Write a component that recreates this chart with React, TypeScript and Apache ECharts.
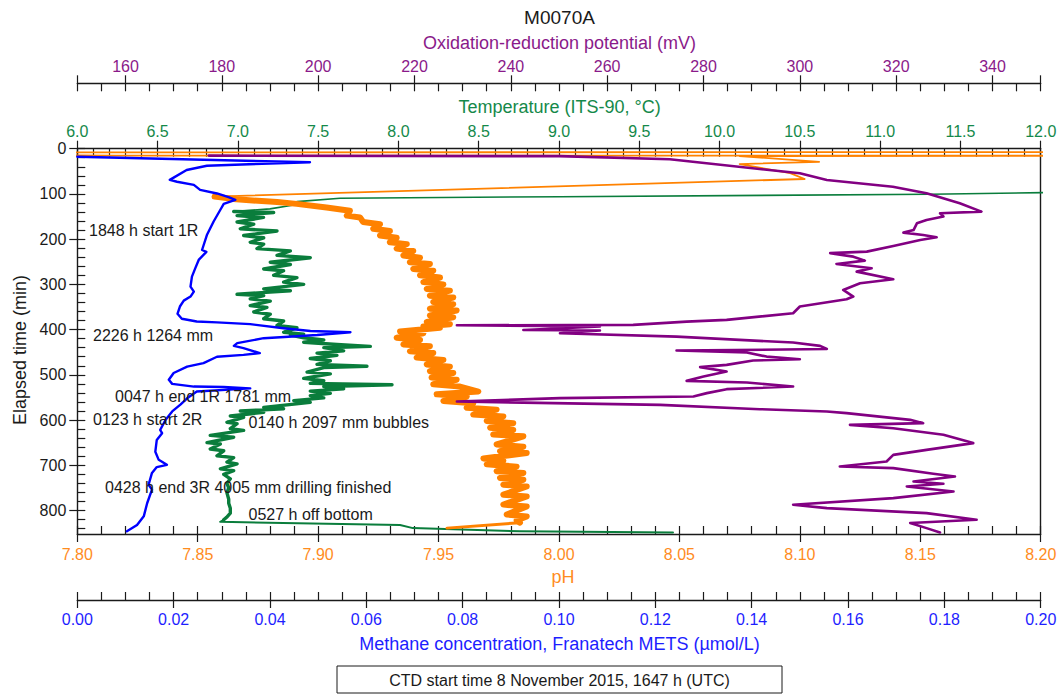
import React, { useEffect, useRef } from "react";
import * as echarts from "echarts";

const FONT = "'Liberation Sans', Arial, Helvetica, sans-serif";

const C_GREEN = "#0a7d3c";
const C_ORANGE = "#ff8200";
const C_PURPLE = "#820082";
const C_BLUE = "#0000ff";
const T_GREEN = "#15894a";
const T_ORANGE = "#ff8c1e";
const T_PURPLE = "#8a1a8a";
const T_BLUE = "#1e1eff";
const INK = "#1a1a1a";

function steps(start: number, end: number, step: number, dec: number): number[] {
  const out: number[] = [];
  const n = Math.round((end - start) / step);
  for (let i = 0; i <= n; i++) out.push(+(start + i * step).toFixed(dec));
  return out;
}

// Elapsed time axis (min)
const TIME_MAX = 852;
const timeTicks = [0, 100, 200, 300, 400, 500, 600, 700, 800];
const timeMinorTicks = steps(0, 840, 20, 0);

// Temperature axis (°C)
const tempTicks = [6.0, 6.5, 7.0, 7.5, 8.0, 8.5, 9.0, 9.5, 10.0, 10.5, 11.0, 11.5, 12.0];
const tempMinorTicks = steps(6, 12, 0.1, 1);

// Oxidation-reduction potential axis (mV)
const orpTickLabels = [160, 180, 200, 220, 240, 260, 280, 300, 320, 340];
const orpMajorTicks = [150, ...orpTickLabels, 350];
const orpMinorTicks = steps(150, 350, 5, 0);

// pH axis
const phTicks = [7.8, 7.85, 7.9, 7.95, 8.0, 8.05, 8.1, 8.15, 8.2];
const phMinorTicks = steps(7.8, 8.2, 0.01, 2);

// Methane axis (µmol/L)
const methaneTicks = [0, 0.02, 0.04, 0.06, 0.08, 0.1, 0.12, 0.14, 0.16, 0.18, 0.2];
const methaneMinorTicks = steps(0, 0.2, 0.005, 3);

// Traces: [value, elapsed time (min)]
const temperatureDescent: [number, number][] = [
  [12.5, 94.5], [11.31, 100.8], [9.005, 106.1], [7.636, 109.6], [7.368, 117], [7.348, 124.4],
  [7.2, 133], [7.05, 137], [6.974, 139],
];

const temperatureProfile: [number, number][] = [
  [6.974, 139], [7.223, 141], [6.995, 148], [7.16, 152], [6.995, 162],
  [7.099, 167], [7.015, 177], [7.244, 182], [7.036, 192], [7.161, 197], [7.077, 207], [7.161, 211],
  [7.119, 221], [7.327, 226], [7.244, 236], [7.451, 241], [7.202, 251], [7.327, 256], [7.161, 266],
  [7.285, 270], [7.223, 280], [7.368, 285], [7.285, 295], [7.41, 300], [7.161, 310], [7.327, 314],
  [6.995, 322], [7.161, 325], [7.077, 332], [7.202, 337], [7.077, 347], [7.181, 351], [7.099, 361],
  [7.202, 366], [7.161, 376], [7.285, 381], [7.244, 391], [7.368, 396], [7.285, 406], [7.41, 410],
  [7.327, 412], [7.41, 418], [7.535, 423], [7.41, 428], [7.617, 433], [7.825, 437], [7.535, 440],
  [7.659, 447], [7.493, 452], [7.617, 457], [7.451, 464], [7.576, 469], [7.493, 477], [7.804, 481],
  [7.535, 484], [7.431, 494], [7.576, 498], [7.41, 508], [7.535, 513], [7.451, 519], [7.96, 522],
  [7.535, 526], [7.659, 531], [7.451, 536], [7.576, 541], [7.451, 546], [7.535, 551], [7.348, 557],
  [7.451, 561], [7.161, 572], [7.285, 575], [7.015, 580], [7.161, 583], [6.953, 591], [7.036, 594],
  [6.932, 605], [6.995, 608], [6.953, 619], [7.036, 623], [6.828, 634], [6.974, 638], [6.808, 650],
  [6.891, 653], [6.828, 664], [6.912, 668], [6.87, 679], [6.974, 683], [6.932, 693], [6.995, 697],
  [6.891, 708], [6.974, 712], [6.912, 720], [6.953, 730], [6.932, 740], [6.943, 750], [6.932, 761],
  [6.943, 775], [6.943, 784], [6.953, 795], [6.953, 806], [6.93, 815], [6.912, 820.6],
];

const temperatureBottom: [number, number][] = [
  [6.912, 820.6], [6.89, 825], [8.01, 832], [8.09, 839], [8.757, 846], [9.71, 848.6],
];

const phDescent: [number, number][] = [
  [8.35, 3], [8.35, 7.6], [7.75, 8.0], [7.75, 14.6], [7.8157, 15.2], [8.35, 15.8], [8.075, 16.2],
  [8.108, 29], [8.075, 34], [8.096, 54], [8.102, 67], [7.857, 106],
];

const phProfile: [number, number][] = [
  [7.857, 106], [7.866, 112], [7.883, 118],
  [7.8911, 122], [7.9035, 130], [7.9132, 137], [7.9119, 148], [7.9174, 152], [7.9187, 162],
  [7.9257, 167], [7.9229, 177], [7.9298, 182], [7.9257, 192], [7.9326, 197], [7.9298, 207],
  [7.9368, 211], [7.9326, 221], [7.9395, 226], [7.9354, 236], [7.9423, 241], [7.9381, 251],
  [7.9464, 255], [7.9395, 266], [7.9478, 270], [7.9423, 280], [7.9506, 285], [7.9437, 295],
  [7.952, 300], [7.9451, 310], [7.9547, 314], [7.9464, 325], [7.9561, 329], [7.9478, 339],
  [7.9561, 344], [7.9464, 354], [7.9575, 358], [7.9464, 369], [7.9561, 373], [7.9451, 383],
  [7.9547, 388], [7.9437, 393], [7.9506, 396], [7.934, 404], [7.9437, 408], [7.9326, 418],
  [7.9423, 423], [7.9354, 433], [7.9464, 437], [7.9381, 448], [7.9478, 452], [7.9409, 462],
  [7.952, 467], [7.9451, 477], [7.9547, 482], [7.9464, 492], [7.9561, 496], [7.9471, 506],
  [7.9575, 511], [7.9478, 521], [7.9589, 526], [7.9665, 537], [7.9492, 543], [7.9617, 548],
  [7.952, 558], [7.9644, 563], [7.9617, 573], [7.9741, 577], [7.9644, 588], [7.9769, 592],
  [7.97, 602], [7.981, 607], [7.9714, 617], [7.981, 622], [7.9727, 632], [7.9852, 636],
  [7.9741, 654], [7.9852, 659], [7.9755, 669], [7.9866, 673], [7.9686, 685], [7.9769, 690],
  [7.97, 698], [7.9824, 703], [7.9741, 713], [7.9852, 717], [7.9755, 728], [7.9852, 732],
  [7.9769, 743], [7.9866, 747], [7.9769, 765], [7.9866, 769], [7.9769, 787], [7.9866, 791],
  [7.9783, 809], [7.9866, 813], [7.9824, 822], [7.9838, 827],
];

const phBottom: [number, number][] = [
  [7.9838, 827], [7.9535, 839],
];

const orpTrace: [number, number][] = [
  [177.3, 15.3], [250, 16.5], [273, 23.4], [300, 54.4], [305.6, 69.2], [319.3, 84], [326.3, 98.6],
  [333.2, 120.7], [337.7, 139.2], [329.1, 142.8], [329.8, 150], [326.3, 157.6], [324.3, 165],
  [323.6, 180], [321.5, 185.6], [325.6, 190.7], [328.4, 195.8], [325, 201.8], [319.4, 215],
  [313.9, 227.6], [306.3, 231], [311.1, 238.7], [313.5, 247.5], [307.6, 254.8], [314.9, 264.3],
  [311.8, 271.8], [319.4, 288.6], [312.5, 297.5], [309, 312.3], [311.1, 327], [309.7, 332.8],
  [300, 349], [298.6, 363.8], [284.8, 378.6], [276.5, 382.3], [265.4, 389.6], [228.8, 390.5],
  [258.5, 393], [242.6, 401], [258.5, 402], [250.2, 408], [274.4, 415.5], [298.6, 428.7],
  [304.2, 436], [305.6, 443], [274.4, 446.4], [289, 450.8], [293.1, 459.7], [300, 465.5],
  [290.3, 468.5], [284.8, 478], [279.3, 483], [284.8, 492.8], [280, 503.9], [276.5, 513.4],
  [289, 517.1], [298.6, 526], [284.8, 531.7], [280.7, 540.5], [277.9, 548], [250.2, 551.6],
  [228.8, 559], [271, 566.4], [291.7, 576], [305.6, 581], [309.7, 584.8], [322.9, 599.6],
  [325.6, 606.9], [310.4, 610.6], [319.4, 618], [329.8, 632.7], [336, 651], [326.3, 665.9],
  [319.4, 677], [318, 691.7], [308.3, 702.8], [319.4, 706.3], [327.7, 718.9], [332.2, 724.9],
  [323.6, 735.9], [329.8, 741], [322.2, 747], [331.9, 758], [319.4, 772.6], [298.6, 787.4],
  [305.6, 794.7], [326.3, 805.8], [336.7, 820.6], [322.9, 827.8], [326.3, 839], [329.1, 848.6],
];

const methaneTrace: [number, number][] = [
  [0.0, 17.7], [0.0483, 30], [0.0269, 37.6], [0.0227, 47], [0.0192, 69], [0.0207, 73], [0.0242, 80],
  [0.0255, 91], [0.029, 99], [0.0314, 107], [0.0328, 113], [0.0304, 122], [0.0297, 135],
  [0.0283, 161], [0.0269, 191], [0.0259, 224], [0.0268, 228], [0.0252, 246], [0.0245, 264],
  [0.0238, 283], [0.0235, 305], [0.0242, 316], [0.0235, 327], [0.0221, 336], [0.0213, 349],
  [0.0208, 365], [0.0217, 376], [0.0248, 382], [0.029, 384], [0.0359, 388], [0.0428, 397],
  [0.0484, 403], [0.0567, 406], [0.0498, 412], [0.0387, 419], [0.0332, 430], [0.0325, 436],
  [0.0345, 441], [0.0379, 452], [0.0345, 456], [0.029, 460], [0.0262, 474], [0.0228, 482],
  [0.02, 496], [0.019, 511], [0.0197, 520], [0.0242, 526], [0.0304, 527], [0.0359, 530],
  [0.0248, 537], [0.0228, 552], [0.0214, 566], [0.0197, 581], [0.0183, 600], [0.0172, 622],
  [0.0176, 629], [0.0165, 644], [0.0162, 670], [0.0169, 688], [0.0186, 699], [0.0165, 704],
  [0.0155, 717], [0.0148, 743], [0.0155, 754], [0.0145, 784], [0.0138, 813], [0.0124, 832],
  [0.0103, 846],
];

const notes: { text: string; x: number; y: number }[] = [
  { text: "1848 h start 1R", x: 89, y: 230 },
  { text: "2226 h 1264 mm", x: 93, y: 335 },
  { text: "0047 h end 1R 1781 mm", x: 115, y: 396 },
  { text: "0123 h start 2R", x: 93, y: 419 },
  { text: "0140 h 2097 mm bubbles", x: 248.5, y: 422.5 },
  { text: "0428 h end 3R 4005 mm drilling finished", x: 105, y: 487 },
  { text: "0527 h off bottom", x: 248.5, y: 514.5 },
];

const GRID = { left: 77.3, top: 148.7, width: 963.4, height: 385.3 };

const tickStyle = { color: INK, width: 1.2 };
const lineStyle = { color: INK, width: 1.4 };

function majorX(position: string, offset: number, min: number, max: number, ticks: number[],
  labels: number[], color: string, fmt: (v: number) => string, margin: number) {
  return {
    type: "value", gridIndex: 0, position, offset, min, max,
    axisLine: { show: true, onZero: false, lineStyle },
    axisTick: { show: true, inside: false, length: 8, customValues: ticks, lineStyle: tickStyle },
    axisLabel: {
      show: true, customValues: labels, formatter: fmt, color, fontSize: 16,
      fontFamily: FONT, margin, showMinLabel: true, showMaxLabel: true,
    },
    splitLine: { show: false },
  };
}

function minorX(position: string, offset: number, min: number, max: number, ticks: number[]) {
  return {
    type: "value", gridIndex: 0, position, offset, min, max,
    axisLine: { show: false, onZero: false },
    axisTick: { show: true, inside: true, length: 8, customValues: ticks, lineStyle: tickStyle },
    axisLabel: { show: false },
    splitLine: { show: false },
  };
}

function trace(name: string, xAxisIndex: number, data: [number, number][], color: string,
  width: number, z: number) {
  return {
    name, type: "line", xAxisIndex, yAxisIndex: 0, data,
    showSymbol: false, symbol: "none", clip: true, z,
    lineStyle: { color, width, join: "round", cap: "round" },
  };
}

function txt(text: string, x: number, y: number, color: string, size: number,
  align = "center", rotation = 0) {
  return {
    type: "text", x, y, rotation, z: 10,
    style: {
      text, fill: color, fontSize: size, fontFamily: FONT,
      align, verticalAlign: "middle", textAlign: align, textVerticalAlign: "middle",
    },
  };
}

export default function App() {
  const ref = useRef<HTMLDivElement>(null);

  useEffect(() => {
    if (!ref.current) return;
    const chart = echarts.init(ref.current, undefined, { renderer: "svg" });

    const option: any = {
      animation: false,
      backgroundColor: "#ffffff",
      grid: { ...GRID, containLabel: false },
      xAxis: [
        majorX("top", 0, 6, 12, tempTicks, tempTicks, T_GREEN, (v) => v.toFixed(1), 9),
        minorX("top", 0, 6, 12, tempMinorTicks),
        majorX("top", 65.4, 150, 350, orpMajorTicks, orpTickLabels, T_PURPLE, (v) => String(Math.round(v)), 9),
        minorX("top", 65.4, 150, 350, orpMinorTicks),
        majorX("bottom", 0, 7.8, 8.2, phTicks, phTicks, T_ORANGE, (v) => v.toFixed(2), 12),
        minorX("bottom", 0, 7.8, 8.2, phMinorTicks),
        majorX("bottom", 66, 0, 0.2, methaneTicks, methaneTicks, T_BLUE, (v) => v.toFixed(2), 11),
        minorX("bottom", 66, 0, 0.2, methaneMinorTicks),
      ],
      yAxis: [
        {
          type: "value", gridIndex: 0, position: "left", inverse: true, min: 0, max: TIME_MAX,
          axisLine: { show: true, onZero: false, lineStyle },
          axisTick: { show: true, inside: false, length: 8, customValues: timeTicks, lineStyle: tickStyle },
          axisLabel: {
            show: true, customValues: timeTicks, color: INK, fontSize: 16, fontFamily: FONT, margin: 11,
          },
          splitLine: { show: false },
        },
        {
          type: "value", gridIndex: 0, position: "left", inverse: true, min: 0, max: TIME_MAX,
          axisLine: { show: false, onZero: false },
          axisTick: { show: true, inside: true, length: 8, customValues: timeMinorTicks, lineStyle: tickStyle },
          axisLabel: { show: false },
          splitLine: { show: false },
        },
        {
          type: "value", gridIndex: 0, position: "right", inverse: true, min: 0, max: TIME_MAX,
          axisLine: { show: true, onZero: false, lineStyle },
          axisTick: { show: false },
          axisLabel: { show: false },
          splitLine: { show: false },
        },
      ],
      series: [
        trace("Temperature", 0, temperatureDescent, C_GREEN, 1.6, 3),
        trace("Temperature", 0, temperatureProfile, C_GREEN, 3.4, 3),
        trace("Temperature", 0, temperatureBottom, C_GREEN, 2, 3),
        trace("pH", 4, phDescent, C_ORANGE, 1.8, 4),
        trace("pH", 4, phProfile, C_ORANGE, 6, 4),
        trace("pH", 4, phBottom, C_ORANGE, 3, 4),
        trace("ORP", 2, orpTrace, C_PURPLE, 2.6, 5),
        trace("Methane", 6, methaneTrace, C_BLUE, 2.4, 6),
      ],
      graphic: [
        txt("M0070A", 559.5, 17, INK, 19),
        txt("Oxidation-reduction potential (mV)", 559.5, 43, T_PURPLE, 18),
        txt("Temperature (ITS-90, °C)", 559.5, 107, T_GREEN, 18),
        txt("pH", 563, 577, T_ORANGE, 18),
        txt("Methane concentration, Franatech METS (µmol/L)", 559.5, 644, T_BLUE, 18),
        txt("Elapsed time (min)", 20, 350, INK, 18, "center", Math.PI / 2),
        ...notes.map((n) => txt(n.text, n.x, n.y, INK, 16, "left")),
        {
          type: "rect", z: 10,
          shape: { x: 337, y: 666, width: 445, height: 27 },
          style: { fill: "#ffffff", stroke: INK, lineWidth: 1 },
        },
        txt("CTD start time 8 November 2015, 1647 h (UTC)", 559.5, 680, INK, 16),
      ],
    };

    chart.setOption(option);
    return () => chart.dispose();
  }, []);

  return (
    <div
      ref={ref}
      style={{ position: "fixed", left: 0, top: 0, width: 1062, height: 695, background: "#fff" }}
    />
  );
}
